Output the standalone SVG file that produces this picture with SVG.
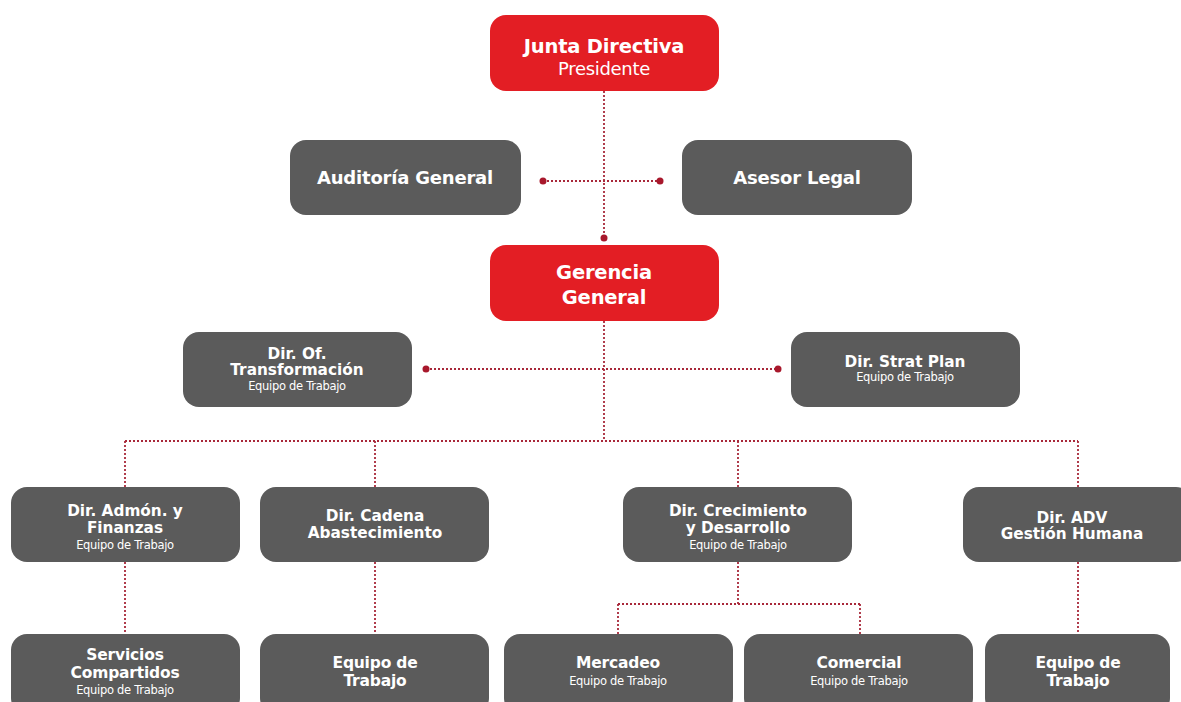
<svg xmlns="http://www.w3.org/2000/svg" width="1181" height="702" viewBox="0 0 1181 702">
<style>
.red{fill:#e31e24}
.gray{fill:#5b5b5b}
text{font-family:"DejaVu Sans","Liberation Sans",sans-serif;fill:#fff;text-anchor:middle}
.t{font-weight:700;font-size:18px;letter-spacing:-0.2px}
.tt{font-weight:700;font-size:19.5px;letter-spacing:-0.2px}
.tr{font-weight:400;font-size:18px;letter-spacing:-0.3px}
.m{font-weight:700;font-size:15.3px;letter-spacing:0px}
.b{font-weight:700;font-size:15.5px;letter-spacing:-0.2px}
.s{font-weight:400;font-size:11.5px;letter-spacing:-0.3px}
.ln{fill:none;stroke:#a8283a;stroke-width:1.8;stroke-dasharray:2 2}
.dot{fill:#a8182c}
</style>
<rect width="1181" height="702" fill="#fff"/>
<g id="connectors">
<path class="ln" d="M604 91 V238"/>
<path class="ln" d="M543 181 H660"/>
<path class="ln" d="M604 321 V441"/>
<path class="ln" d="M426 369 H778"/>
<path class="ln" d="M125 441 H1078"/>
<path class="ln" d="M125 441 V487 M375 441 V487 M738 441 V487 M1078 441 V487"/>
<path class="ln" d="M125 562 V634 M375 562 V634 M1078 562 V634"/>
<path class="ln" d="M738 562 V604 M618 604 H860 M618 604 V634 M860 604 V634"/>
<circle class="dot" cx="604" cy="238" r="3.5"/>
<circle class="dot" cx="543" cy="181" r="3.5"/>
<circle class="dot" cx="660" cy="181" r="3.5"/>
<circle class="dot" cx="426" cy="369" r="3.5"/>
<circle class="dot" cx="778" cy="369" r="3.5"/>
</g>
<g id="junta"><rect class="red" x="490" y="15" width="229" height="76" rx="16"/><text class="tt" x="604" y="53">Junta Directiva</text><text class="tr" x="604" y="75">Presidente</text></g>
<g id="auditoria"><rect class="gray" x="290" y="140" width="231" height="75" rx="16"/><text class="t" x="405" y="184">Auditoría General</text></g>
<g id="asesor"><rect class="gray" x="682" y="140" width="230" height="75" rx="16"/><text class="t" x="797" y="184">Asesor Legal</text></g>
<g id="gerencia"><rect class="red" x="490" y="245" width="229" height="76" rx="16"/><text class="tt" x="604" y="279">Gerencia</text><text class="tt" x="604" y="304">General</text></g>
<g id="transformacion"><rect class="gray" x="183" y="332" width="229" height="75" rx="16"/><text class="m" x="297" y="359">Dir. Of.</text><text class="m" x="297" y="375">Transformación</text><text class="s" x="297" y="390">Equipo de Trabajo</text></g>
<g id="strat"><rect class="gray" x="791" y="332" width="229" height="75" rx="16"/><text class="m" x="905" y="367">Dir. Strat Plan</text><text class="s" x="905" y="381">Equipo de Trabajo</text></g>
<g id="admon"><rect class="gray" x="11" y="487" width="229" height="75" rx="16"/><text class="m" x="125" y="516">Dir. Admón. y</text><text class="m" x="125" y="533">Finanzas</text><text class="s" x="125" y="549">Equipo de Trabajo</text></g>
<g id="cadena"><rect class="gray" x="260" y="487" width="229" height="75" rx="16"/><text class="m" x="375" y="521">Dir. Cadena</text><text class="m" x="375" y="538">Abastecimiento</text></g>
<g id="crecimiento"><rect class="gray" x="623" y="487" width="229" height="75" rx="16"/><text class="m" x="738" y="516">Dir. Crecimiento</text><text class="m" x="738" y="533">y Desarrollo</text><text class="s" x="738" y="549">Equipo de Trabajo</text></g>
<g id="adv"><rect class="gray" x="963" y="487" width="229" height="75" rx="16"/><text class="m" x="1072" y="523">Dir. ADV</text><text class="m" x="1072" y="539">Gestión Humana</text></g>
<g id="servicios"><rect class="gray" x="11" y="634" width="229" height="80" rx="16"/><text class="b" x="125" y="660">Servicios</text><text class="b" x="125" y="678">Compartidos</text><text class="s" x="125" y="694">Equipo de Trabajo</text></g>
<g id="equipo1"><rect class="gray" x="260" y="634" width="229" height="80" rx="16"/><text class="b" x="375" y="668">Equipo de</text><text class="b" x="375" y="686">Trabajo</text></g>
<g id="mercadeo"><rect class="gray" x="504" y="634" width="229" height="80" rx="16"/><text class="b" x="618" y="668">Mercadeo</text><text class="s" x="618" y="685">Equipo de Trabajo</text></g>
<g id="comercial"><rect class="gray" x="744" y="634" width="229" height="80" rx="16"/><text class="b" x="859" y="668">Comercial</text><text class="s" x="859" y="685">Equipo de Trabajo</text></g>
<g id="equipo2"><rect class="gray" x="985" y="634" width="185" height="80" rx="16"/><text class="b" x="1078" y="668">Equipo de</text><text class="b" x="1078" y="686">Trabajo</text></g>
</svg>
